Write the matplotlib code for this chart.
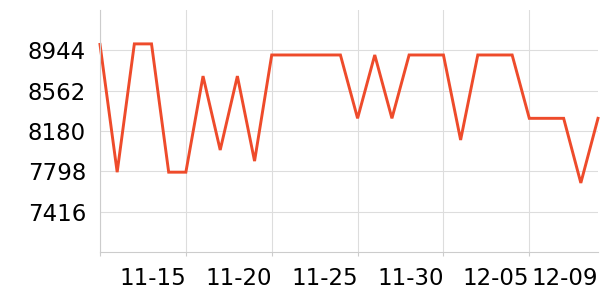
import pandas as pd
import matplotlib
matplotlib.use('Agg')
import matplotlib.pyplot as plt

plt.rcParams['font.family'] = ['DejaVu Sans']

# daily values, 11-10 .. 12-09
dates = pd.date_range('2023-11-10', '2023-12-09', freq='D')
values = [9000, 7790, 9005, 9005, 7790, 7790, 8700, 8000, 8700, 7895,
          8900, 8900, 8900, 8900, 8900, 8300, 8900, 8300, 8900, 8900,
          8900, 8095, 8900, 8900, 8900, 8300, 8300, 8300, 7688, 8300]

y_ticks = [7416, 7798, 8180, 8562, 8944]
x_tick_labels = ['11-15', '11-20', '11-25', '11-30', '12-05', '12-09']

fig = plt.figure(figsize=(6, 3), dpi=100)
ax = fig.add_axes([100 / 600, 48 / 300, 498 / 600, 242 / 300])

ax.plot(dates, values, color='#ee4b2b', linewidth=2.1, solid_joinstyle='miter', clip_on=False)

ax.set_ylim(7034, 9326)
ax.set_xlim(dates[0], dates[-1])
ax.set_yticks(y_ticks)
ax.set_yticklabels([str(v) for v in y_ticks])

label_pos = [pd.Timestamp('2023-' + s) for s in x_tick_labels]
ax.set_xticks([dates[0]] + label_pos[:-1])
ax.set_xticklabels([''] + x_tick_labels[:-1], ha='right')
# last label sits at the right edge without a grid line
ax.text(label_pos[-1], -0.06, x_tick_labels[-1], transform=ax.get_xaxis_transform(),
        ha='right', va='top', fontsize=16.5)

ax.grid(True, color='#dddddd', linewidth=0.8)
ax.set_axisbelow(True)
for side in ['top', 'right']:
    ax.spines[side].set_visible(False)
for side in ['left', 'bottom']:
    ax.spines[side].set_color('#cccccc')
    ax.spines[side].set_linewidth(0.8)

ax.tick_params(axis='y', length=0, pad=10, labelsize=16.5, colors='black')
ax.tick_params(axis='x', length=3, pad=8, labelsize=16.5, color='#cccccc', labelcolor='black')

fig.savefig('out.png', dpi=100)
